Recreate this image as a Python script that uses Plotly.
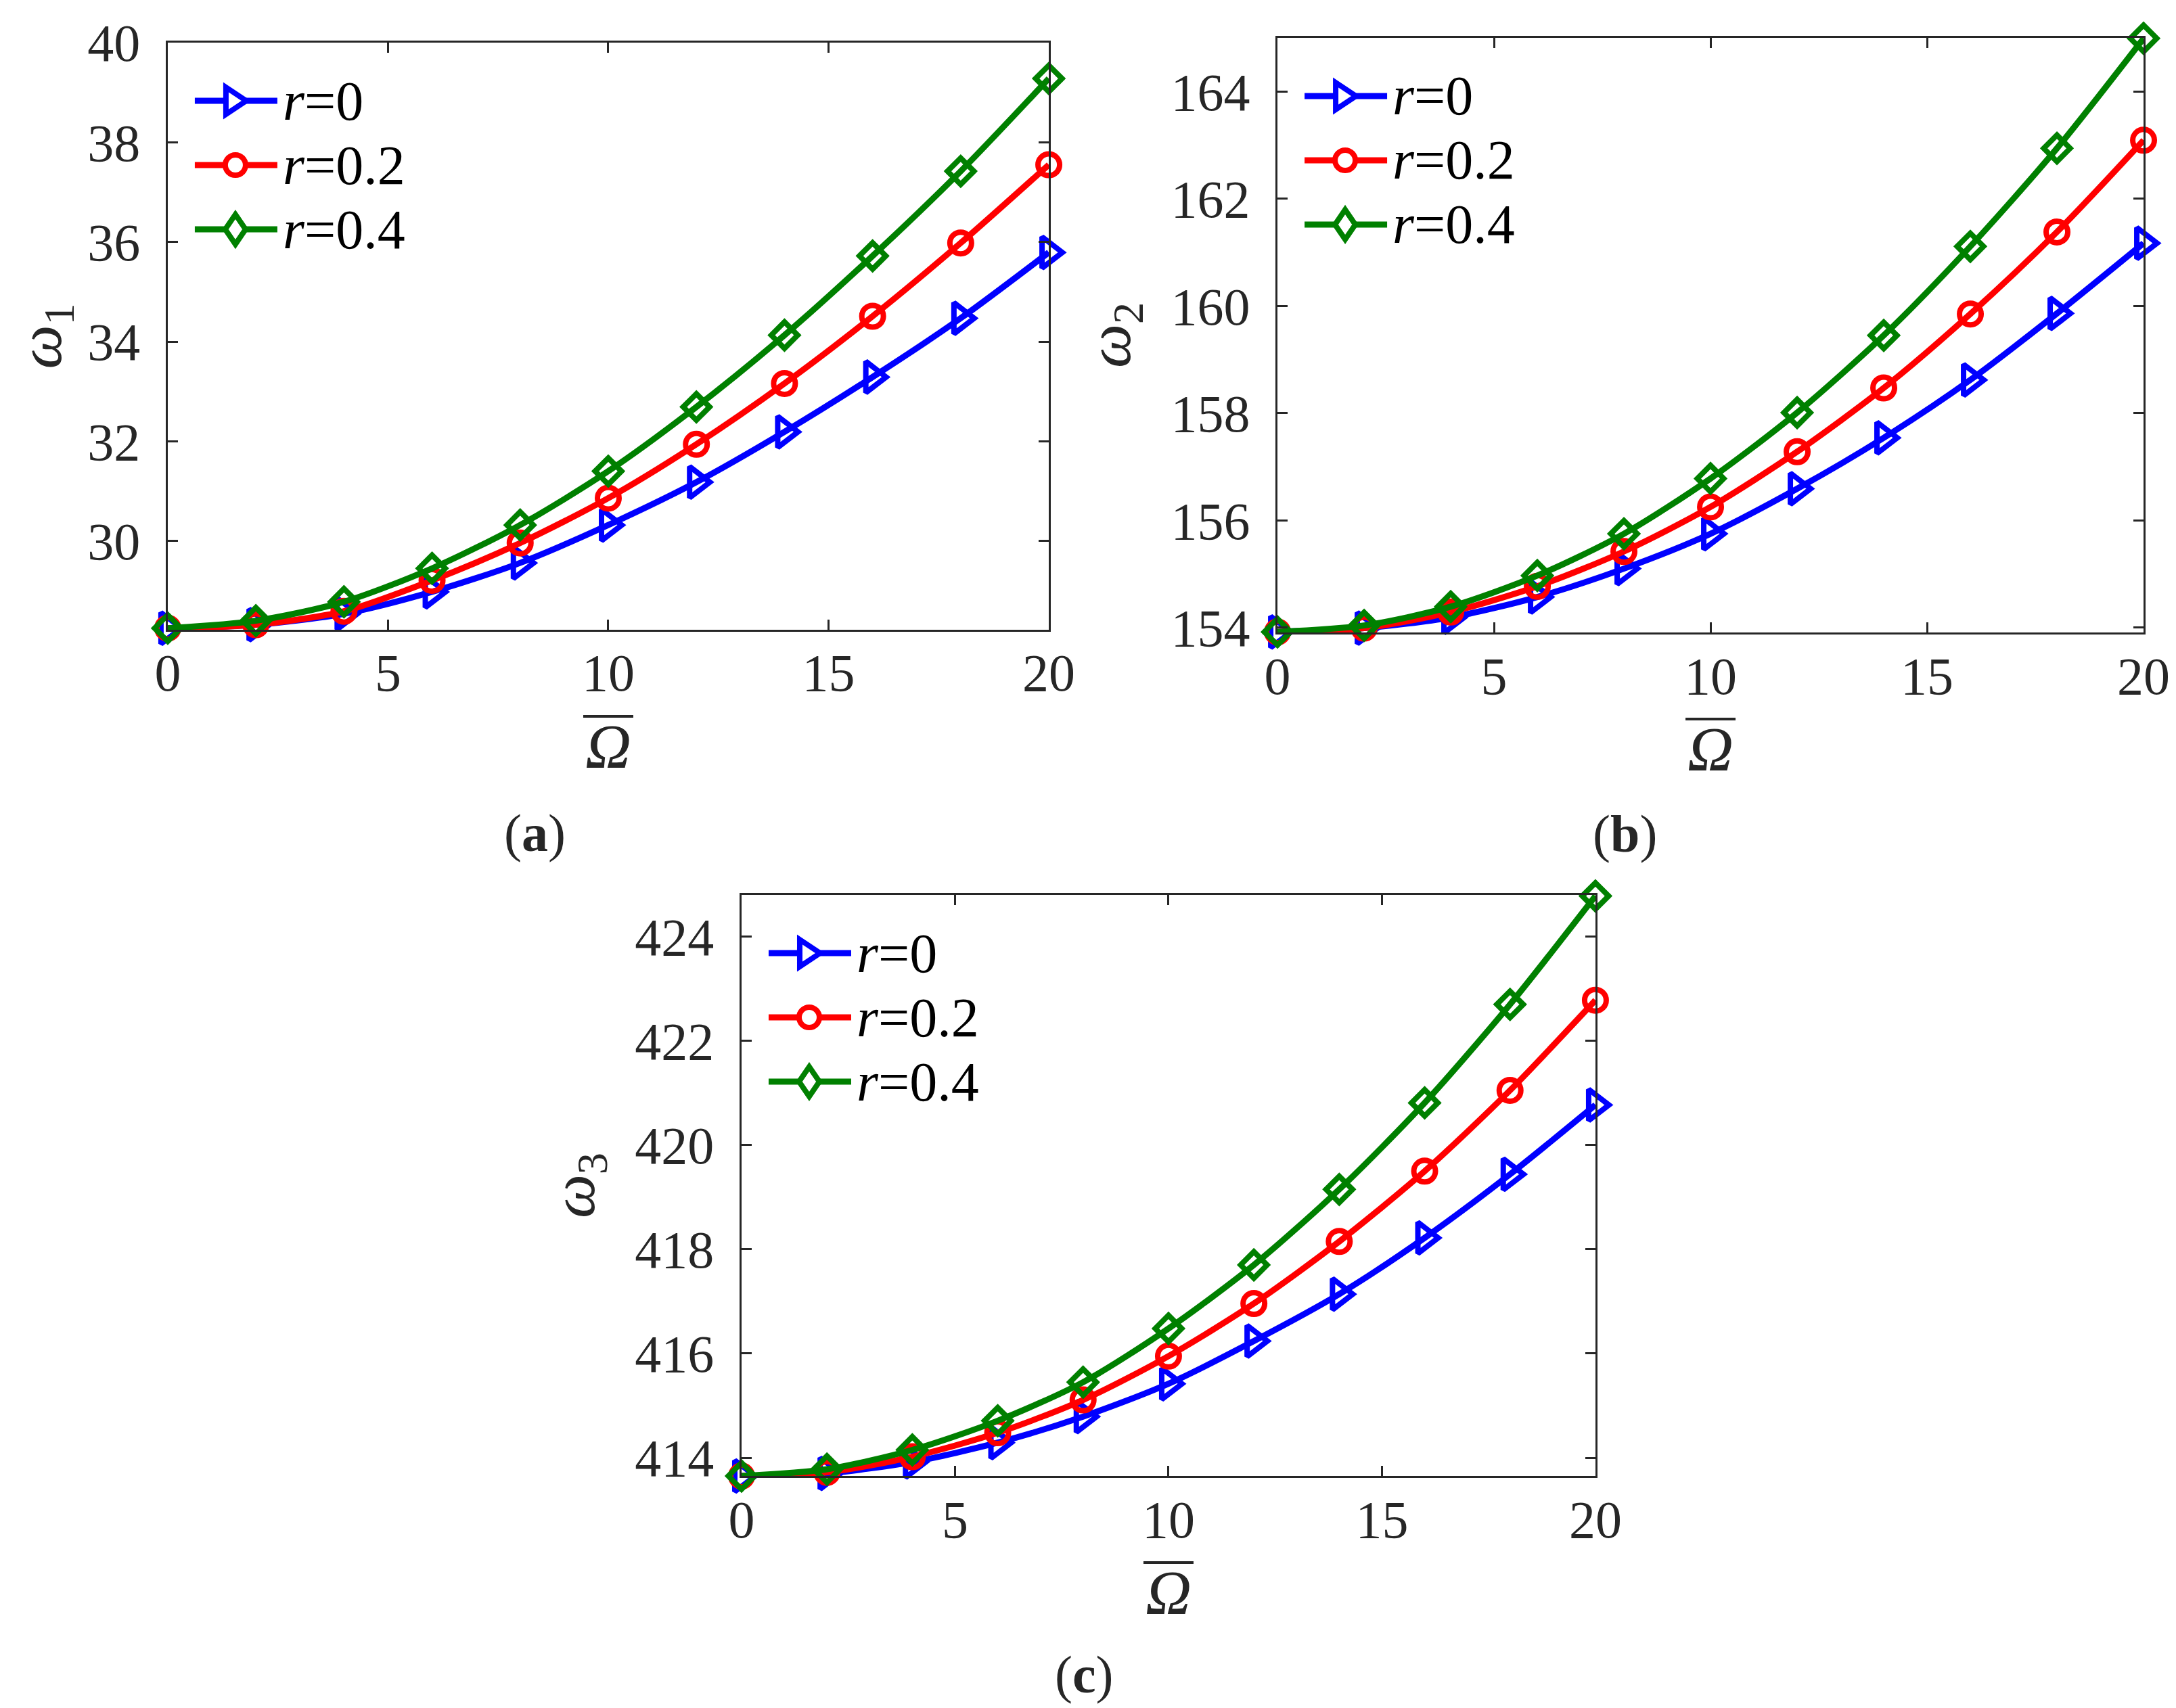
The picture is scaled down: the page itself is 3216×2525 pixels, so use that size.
import plotly.graph_objects as go

omega_bar = [0, 2, 4, 6, 8, 10, 12, 14, 16, 18, 20]
r_labels = ["<i>r</i>=0", "<i>r</i>=0.2", "<i>r</i>=0.4"]

# (a) first natural frequency
w1_r0 = [28.25, 28.32, 28.54, 28.98, 29.56, 30.32, 31.18, 32.19, 33.29, 34.47, 35.79]
w1_r02 = [28.25, 28.32, 28.59, 29.21, 29.96, 30.86, 31.94, 33.16, 34.51, 35.98, 37.55]
w1_r04 = [28.25, 28.40, 28.78, 29.45, 30.32, 31.40, 32.69, 34.13, 35.72, 37.42, 39.28]

# (b) second natural frequency
w2_r0 = [153.92, 153.99, 154.19, 154.57, 155.10, 155.75, 156.59, 157.54, 158.62, 159.86, 161.17]
w2_r02 = [153.92, 153.99, 154.29, 154.77, 155.42, 156.25, 157.28, 158.47, 159.85, 161.38, 163.09]
w2_r04 = [153.92, 154.04, 154.39, 154.97, 155.75, 156.78, 158.01, 159.45, 161.11, 162.94, 164.99]

# (c) third natural frequency
w3_r0 = [413.65, 413.70, 413.92, 414.29, 414.79, 415.42, 416.24, 417.14, 418.22, 419.44, 420.77]
w3_r02 = [413.65, 413.72, 414.02, 414.48, 415.11, 415.95, 416.96, 418.15, 419.50, 421.05, 422.78]
w3_r04 = [413.65, 413.78, 414.15, 414.71, 415.45, 416.48, 417.70, 419.15, 420.81, 422.70, 424.78]

colors = ["#0000FF", "#FF0000", "#008000"]
symbols = ["triangle-right-open", "circle-open", "diamond-open"]
msizes = [40, 32, 30]
FONT = "Liberation Serif"
AX = "#262626"

panels = [
    (w1_r0, w1_r02, w1_r04),
    (w2_r0, w2_r02, w2_r04),
    (w3_r0, w3_r02, w3_r04),
]

fig = go.Figure()
for k, series in enumerate(panels):
    sfx = "" if k == 0 else str(k + 1)
    for j, ys in enumerate(series):
        fig.add_trace(go.Scatter(
            x=omega_bar, y=ys, name=r_labels[j], showlegend=False,
            mode="lines+markers", cliponaxis=False,
            line=dict(color=colors[j], width=9, shape="spline", smoothing=0.8),
            marker=dict(symbol=symbols[j], size=msizes[j], color=colors[j],
                        line=dict(color=colors[j], width=8)),
            xaxis="x" + sfx, yaxis="y" + sfx,
        ))

def xax(dom, anchor):
    return dict(domain=dom, anchor=anchor, range=[0, 20], tickvals=[0, 5, 10, 15, 20],
                ticks="inside", ticklen=15, tickwidth=3, tickcolor=AX,
                showline=True, linewidth=3, linecolor=AX, mirror="ticks",
                showgrid=False, zeroline=False, automargin=False, ticklabelstandoff=-6,
                tickfont=dict(family=FONT, size=78, color=AX))

def yax(dom, anchor, rng, tv, title):
    return dict(domain=dom, anchor=anchor, range=rng, tickvals=tv,
                ticks="inside", ticklen=15, tickwidth=3, tickcolor=AX,
                showline=True, linewidth=3, linecolor=AX, mirror="ticks",
                showgrid=False, zeroline=False, automargin=False, ticklabelstandoff=22,
                tickfont=dict(family=FONT, size=78, color=AX),
                title=dict(text=title, font=dict(family=FONT, size=92, color=AX), standoff=30))

fig.update_layout(
    width=3216, height=2525, margin=dict(l=0, r=0, t=0, b=0),
    plot_bgcolor="white", paper_bgcolor="white", showlegend=False,
    xaxis=xax([0.0746, 0.4795], "y"),
    yaxis=yax([0.6345, 0.9782], "x", [28.22, 40], [30, 32, 34, 36, 38, 40], "<i>ω</i><sub>1</sub>"),
    xaxis2=xax([0.5846, 0.9826], "y2"),
    yaxis2=yax([0.6329, 0.981], "x2", [153.91, 165], [154, 156, 158, 160, 162, 164], "<i>ω</i><sub>2</sub>"),
    xaxis3=xax([0.3383, 0.7307], "y3"),
    yaxis3=yax([0.139, 0.4792], "x3", [413.65, 424.8], [414, 416, 418, 420, 422, 424], "<i>ω</i><sub>3</sub>"),
)

# x-axis title: italic Omega with an overbar; legend keys drawn in pixel offsets from each plot corner
for k in range(3):
    sfx = "" if k == 0 else str(k + 1)
    xd, yd = "x" + sfx + " domain", "y" + sfx + " domain"
    fig.add_annotation(text="<i>Ω</i>", xref=xd, yref=yd, x=0.5, y=0, yshift=-172,
                       xanchor="center", yanchor="middle",
                       showarrow=False, font=dict(family=FONT, size=94, color=AX))
    fig.add_shape(type="line", xref=xd, yref=yd, xsizemode="pixel", ysizemode="pixel",
                  xanchor=0.5, yanchor=0, x0=-37, x1=37, y0=-128, y1=-128,
                  line=dict(color=AX, width=4))
    for j in range(3):
        cy = -86 - 95 * j
        cx = 100
        common = dict(xref=xd, yref=yd, xsizemode="pixel", ysizemode="pixel", xanchor=0, yanchor=1)
        fig.add_shape(type="line", x0=40, x1=162, y0=cy, y1=cy,
                      line=dict(color=colors[j], width=9), **common)
        if j == 0:
            path = f"M{cx-14},{cy+20} L{cx+16},{cy} L{cx-14},{cy-20} Z"
            fig.add_shape(type="path", path=path, fillcolor="white",
                          line=dict(color=colors[j], width=8), **common)
        elif j == 1:
            fig.add_shape(type="circle", x0=cx - 15, x1=cx + 15, y0=cy - 15, y1=cy + 15,
                          fillcolor="white", line=dict(color=colors[j], width=8), **common)
        else:
            path = f"M{cx},{cy+22} L{cx+15},{cy} L{cx},{cy-22} L{cx-15},{cy} Z"
            fig.add_shape(type="path", path=path, fillcolor="white",
                          line=dict(color=colors[j], width=8), **common)
        fig.add_annotation(text=r_labels[j], xref=xd, yref=yd, x=0, y=1, xshift=168, yshift=cy,
                           xanchor="left", yanchor="middle", showarrow=False,
                           font=dict(family=FONT, size=82, color="black"))

for txt, x, y in [("(<b>a</b>)", 782, 1223), ("(<b>b</b>)", 2393, 1224), ("(<b>c</b>)", 1594, 2467)]:
    fig.add_annotation(text=txt, x=x / 3216, y=1 - y / 2525, xref="paper", yref="paper",
                       xanchor="center", yanchor="middle",
                       showarrow=False, font=dict(family=FONT, size=78, color=AX))

fig.write_html("out.html")
